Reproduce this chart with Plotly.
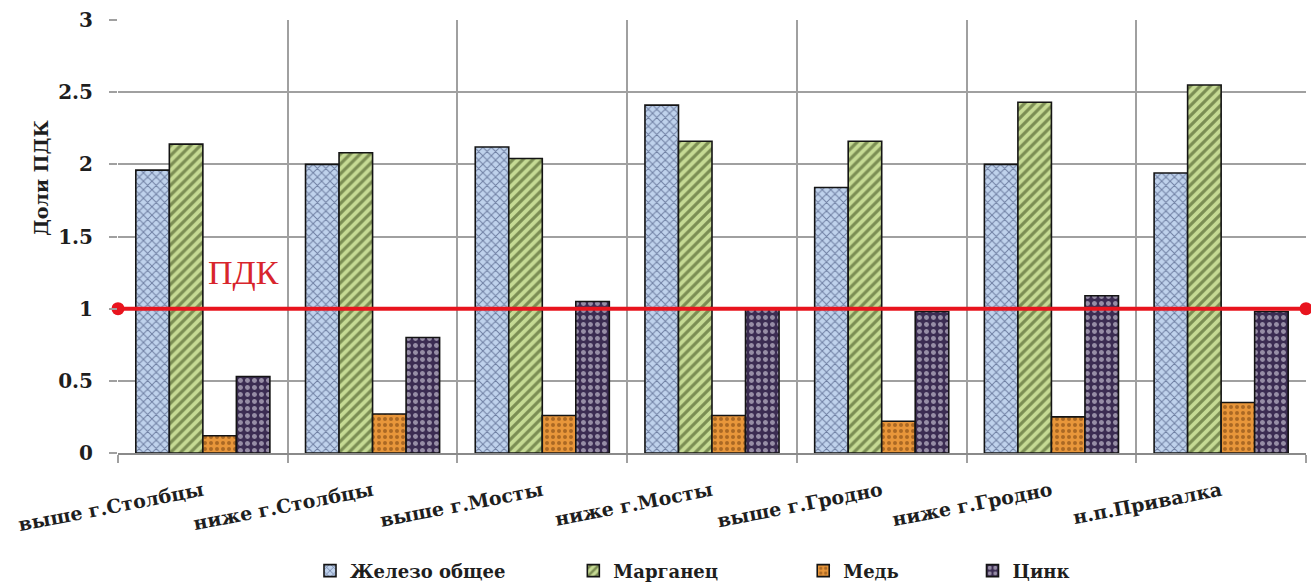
import plotly.graph_objects as go

# Створы наблюдений
sites = ["выше г.Столбцы", "ниже г.Столбцы", "выше г.Мосты", "ниже г.Мосты",
         "выше г.Гродно", "ниже г.Гродно", "н.п.Привалка"]

# Содержание металлов в долях ПДК
iron = [1.96, 2.00, 2.12, 2.41, 1.84, 2.00, 1.94]
manganese = [2.14, 2.08, 2.04, 2.16, 2.16, 2.43, 2.55]
copper = [0.12, 0.27, 0.26, 0.26, 0.22, 0.25, 0.35]
zinc = [0.53, 0.80, 1.05, 1.00, 0.98, 1.09, 0.98]

pdk_level = 1.0
y_ticks = [0, 0.5, 1, 1.5, 2, 2.5, 3]
y_tick_text = ["0", "0.5", "1", "1.5", "2", "2.5", "3"]

FONT = "DejaVu Serif"
TEXT = "#1e1e1e"
NBSP = "\u00a0"

series = [
    ("Железо общее", iron, dict(shape="x", bgcolor="#bfd2ec", fgcolor="#1e2b58", size=6, solidity=0.3), 11),
    ("Марганец", manganese, dict(shape="/", bgcolor="#c6da94", fgcolor="#2f3f12", size=7, solidity=0.45), 14),
    ("Медь", copper, dict(shape=".", bgcolor="#e8963a", fgcolor="#6b3a0c", size=6, solidity=0.35), 12),
    ("Цинк", zinc, dict(shape=".", bgcolor="#3b2c52", fgcolor="#f4f0fa", size=7, solidity=0.4), 0),
]

fig = go.Figure()
for name, vals, pat, pad in series:
    fig.add_trace(go.Bar(
        x=sites, y=vals, name="<b>%s</b>%s" % (name, NBSP * pad),
        marker=dict(color=pat["bgcolor"], pattern=pat,
                    line=dict(color="#141414", width=1.6)),
    ))

# Линия ПДК по всей ширине области построения
fig.add_trace(go.Scatter(
    x=[0, 1], y=[pdk_level, pdk_level], xaxis="x2", mode="lines+markers",
    line=dict(color="#e8141e", width=4), marker=dict(size=13, color="#e8141e"),
    showlegend=False, cliponaxis=False, hoverinfo="skip",
))

fig.add_annotation(
    text="ПДК", xref="paper", yref="y", x=0.106, y=1.25,
    xanchor="center", yanchor="middle", showarrow=False,
    font=dict(family="Liberation Serif", size=34, color="#d8252c"),
)

fig.add_annotation(
    text="<b>Доли ПДК</b>", xref="paper", yref="paper", x=-0.0648, y=0.635,
    textangle=-90, showarrow=False, font=dict(family=FONT, size=19, color=TEXT),
    xanchor="center", yanchor="middle",
)

fig.update_layout(
    width=1311, height=585,
    margin=dict(l=118, r=5, t=20, b=132, autoexpand=False),
    paper_bgcolor="white", plot_bgcolor="white",
    barmode="group", bargap=0.21, bargroupgap=0,
    font=dict(family=FONT, color=TEXT),
    xaxis=dict(
        type="category", tickson="boundaries", showgrid=True,
        gridcolor="#a0a0a0", gridwidth=1.5, ticks="outside", ticklen=8,
        tickcolor="#a0a0a0", tickwidth=1.5,
        tickangle=-11, tickfont=dict(family=FONT, size=19, color=TEXT),
        ticklabelstandoff=18,
        showline=True, linecolor="#8a8a8a", linewidth=1.5,
        tickprefix="<b>", ticksuffix="</b>",
    ),
    xaxis2=dict(overlaying="x", range=[0, 1], visible=False, fixedrange=True),
    yaxis=dict(
        range=[0, 3], tickvals=y_ticks, ticktext=["<b>%s</b>" % t for t in y_tick_text],
        showgrid=True, gridcolor="#a0a0a0", gridwidth=1.5,
        ticks="outside", ticklen=8, tickcolor="#a0a0a0", tickwidth=1.5,
        ticklabelstandoff=12,
        tickfont=dict(family=FONT, size=20, color=TEXT), zeroline=False,
    ),
    legend=dict(
        orientation="h", xref="container", yref="container",
        x=310 / 1311, xanchor="left", y=0.024, yanchor="middle",
        font=dict(family=FONT, size=18, color=TEXT),
        itemwidth=30,
    ),
)

fig.write_html("out.html")
